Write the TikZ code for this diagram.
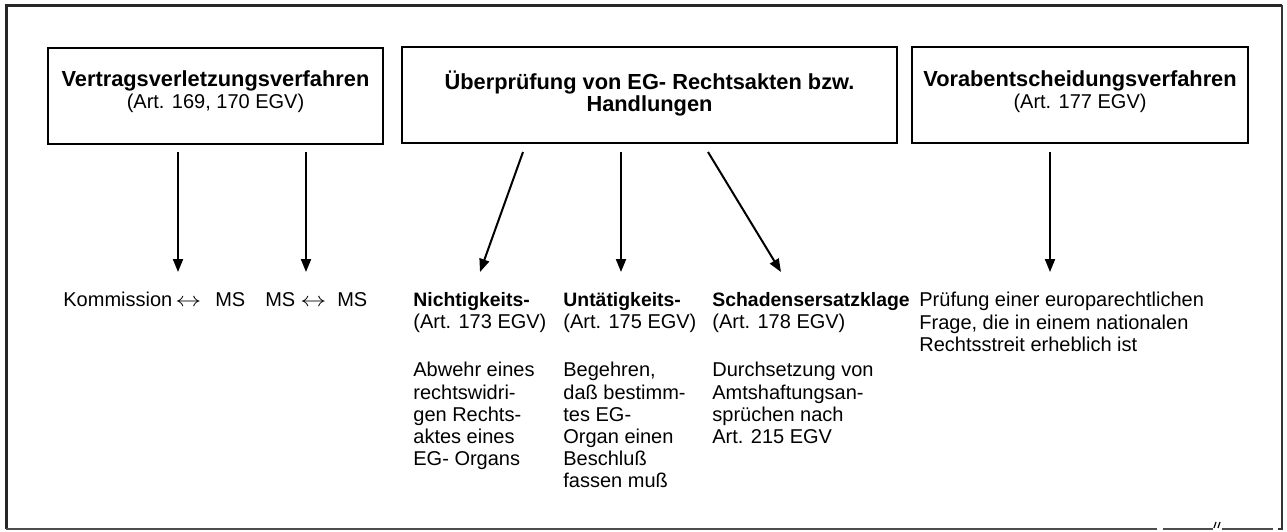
\documentclass[tikz,border=0pt]{standalone}
\usepackage{fontspec}
\setmainfont{Liberation Sans}
\usepackage{graphicx}
\usepackage{tikz}
\usetikzlibrary{arrows.meta,calc}

\newcommand{\hinher}{\scalebox{1.3}[1]{$\leftrightarrow$}}
\newcommand{\titel}[1]{{\fontsize{9.7}{11.1}\selectfont\bfseries #1}}

\begin{document}
\begin{tikzpicture}[x=0.5pt,y=-0.5pt,
  kasten/.style={draw,line width=1pt,minimum width=#1,minimum height=48pt,inner sep=0pt},
  kopf/.style={anchor=north,align=center,inner sep=0pt,font=\fontsize{10}{11}\selectfont},
  spalte/.style={anchor=north west,align=left,inner sep=0pt,font=\fontsize{10}{11.1}\selectfont},
  pfeil/.style={-{Triangle[length=6.5pt,width=5pt]},line width=1pt}]
\useasboundingbox (0,0) rectangle (1287,531);

% Rahmen
\draw[line width=1.5pt,black!85] (6,529) -- (6,5) -- (1282,5);
\draw[line width=1pt,black!80] (1282,5) -- (1282,529) -- (1278,529);
\draw[line width=1pt,black!70] (6,529) -- (1157,529);
\draw[line width=1pt,black!70] (1163,529) -- (1213,529);
\draw[line width=1pt,black!70] (1222,529) -- (1273,529);
\draw[line width=0.6pt] (1214,528) -- (1216,522) (1218,528) -- (1220,522);

% Kaesten
\node[kasten=167.5pt] (vv) at (215.5,96) {};
\node[kasten=247.5pt] (ue) at (649.5,95) {};
\node[kasten=168pt] (va) at (1080,94.5) {};
\node[kopf] (vvtext) at (215.5,70) {{\fontsize{10.9}{11}\selectfont\bfseries Vertragsverletzungsverfahren}\\(Art. 169, 170 EGV)};
\node[kopf] (uetext) at (649.5,70) {{\fontsize{10.9}{11}\selectfont\bfseries \"Uberpr\"ufung von EG- Rechtsakten bzw.}\\{\fontsize{10.9}{11}\selectfont\bfseries Handlungen}};
\node[kopf] (vatext) at (1080,70) {{\fontsize{10.9}{11}\selectfont\bfseries Vorabentscheidungsverfahren}\\(Art. 177 EGV)};

% Spalten unten
\node[spalte] (kms) at (63,292) {Kommission\hspace{1.5pt}\hinher\hspace{7pt}MS\hspace{10pt}MS\hspace{2.5pt}\hinher\hspace{5.5pt}MS};
\node[spalte] (ni) at (413,292) {\titel{Nichtigkeits-}\\(Art. 173 EGV)\\[13pt]Abwehr eines\\rechtswidri-\\gen Rechts-\\aktes eines\\EG- Organs};
\node[spalte] (un) at (563,292) {\titel{Unt\"atigkeits-}\\(Art. 175 EGV)\\[13pt]Begehren,\\da\ss{} bestimm-\\tes EG-\\Organ einen\\Beschlu\ss\\fassen mu\ss};
\node[spalte] (sch) at (712,292) {\titel{Schadensersatzklage}\\(Art. 178 EGV)\\[13pt]Durchsetzung von\\Amtshaftungsan-\\spr\"uchen nach\\Art. 215 EGV};
\node[spalte] (pr) at (919,292) {Pr\"ufung einer europarechtlichen\\Frage, die in einem nationalen\\Rechtsstreit erheblich ist};

% Pfeile
\coordinate (a1) at (178,152);
\coordinate (a2) at (306,152);
\coordinate (a3) at (523,152);
\coordinate (a4) at (621,152);
\coordinate (a5) at (708,152);
\coordinate (a6) at (1050,152);
\coordinate (b1) at (178,272);
\coordinate (b2) at (306,272);
\coordinate (b3) at (480,272);
\coordinate (b4) at (621,272);
\coordinate (b5) at (781,272);
\coordinate (b6) at (1050,272);
\foreach \i in {1,...,6}
  \draw[pfeil] (a\i) -- (b\i);
\end{tikzpicture}
\end{document}
